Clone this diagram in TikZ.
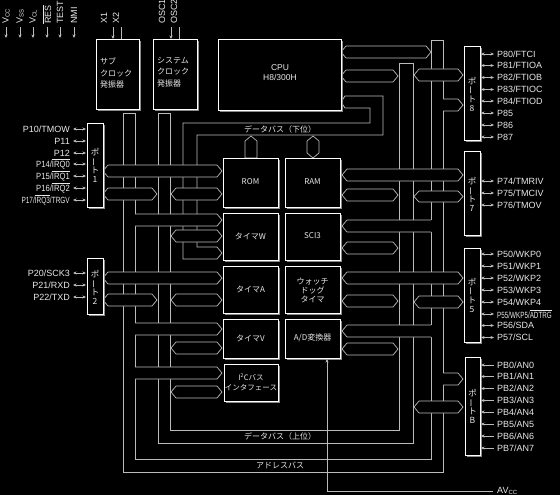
\documentclass[tikz,border=0pt]{standalone}
\usepackage{fontspec}
\setmainfont{Liberation Sans}
\newfontfamily\jp{Noto Sans CJK JP}
\usetikzlibrary{arrows.meta}
\definecolor{busc}{HTML}{BBBBBB}
\definecolor{txtc}{HTML}{E8E8E8}
\definecolor{shd}{HTML}{8A8A8A}
\newcommand{\ovl}[1]{$\overline{\mbox{#1}}$}
\newcommand{\nar}[2]{\scalebox{#1}[1]{#2}}
\newcommand{\hbB}[4]{%
 \filldraw[bl,fill=black] (#1,{(#3+#4)/2}) -- ({#1+5},#3) -- ({#2-5},#3) -- (#2,{(#3+#4)/2}) -- ({#2-5},#4) -- ({#1+5},#4) -- cycle;}
\newcommand{\hbL}[4]{%
 \fill[black] ({#1-0.9},#3) -- ({#2-5},#3) -- (#2,{(#3+#4)/2}) -- ({#2-5},#4) -- ({#1-0.9},#4) -- cycle;
 \draw[bl] (#1,#3) -- ({#2-5},#3) -- (#2,{(#3+#4)/2}) -- ({#2-5},#4) -- (#1,#4);}
\newcommand{\hbR}[4]{%
 \fill[black] (#1,{(#3+#4)/2}) -- ({#1+5},#3) -- ({#2+0.9},#3) -- ({#2+0.9},#4) -- ({#1+5},#4) -- cycle;
 \draw[bl] (#2,#3) -- ({#1+5},#3) -- (#1,{(#3+#4)/2}) -- ({#1+5},#4) -- (#2,#4);}
\newcommand{\bx}[4]{%
 \draw[shd,line width=1.2pt] ({#3+1.2},{#2+2}) -- ({#3+1.2},{#4+1.2}) -- ({#1+2},{#4+1.2});
 \draw[box] (#1,#2) rectangle (#3,#4);}
\begin{document}
\begin{tikzpicture}[x=1pt,y=-1pt,
  bl/.style={draw=busc,line width=0.7pt},
  box/.style={draw=white,line width=0.9pt,fill=black},
  pin/.style={font=\fontsize{9}{10}\selectfont,text=txtc,inner sep=0pt},
  mod/.style={font=\jp\fontsize{8}{9.5}\selectfont,text=txtc,align=center,inner sep=0pt},
  prt/.style={font=\jp\fontsize{8.5}{8.5}\selectfont,text=txtc,align=center,inner sep=0pt},
  tp/.style={pin,rotate=90,anchor=west},
  arr/.style={bl,-{Stealth[length=3.5pt,width=3pt]}},
  darr/.style={bl,{Stealth[length=3.5pt,width=3pt]}-{Stealth[length=3.5pt,width=3pt]}}]
\fill[black] (0,0) rectangle (560,495);
\useasboundingbox (0,0) rectangle (560,495);

% ---- top-left pins
\foreach \x/\t in {6/{V\textsubscript{CC}},20/{V\textsubscript{SS}},33/{V\textsubscript{CL}},47/{\ovl{RES}},60/{TEST},74/{NMI}}{
  \node[tp] (p\x) at (\x,24) {\t};
  \draw[arr] (\x,27) -- (\x,38);}
\node[tp] (x1) at (104,24) {X1};
\node[tp] (x2) at (116,24) {X2};
\node[tp] (o1) at (162,24) {OSC1};
\node[tp] (o2) at (174,24) {OSC2};
\draw[arr] (113,27) -- (113,39);
\draw[bl] (121,27) -- (121,39);
\draw[arr] (171,27) -- (171,39);
\draw[bl] (179,27) -- (179,39);

% ---- buses: address
\draw[bl] (123,113) -- (123,472) -- (443,472) -- (443,40) -- (431,40) -- (431,459) -- (135,459) -- (135,113) -- cycle;
% data bus upper
\draw[bl] (158,113) -- (158,443) -- (413,443) -- (413,63) -- (399,63) -- (399,430) -- (170,430) -- (170,113) -- cycle;
% data bus lower
\draw[bl] (341,102) -- (345,96) -- (383,96) -- (383,135) -- (197,135) -- (197,247) -- (217,247) -- (222,253) -- (217,259) -- (183,259) -- (183,123) -- (370,123) -- (370,108) -- (345,108) -- cycle;

% ---- bus connectors left
\hbB{103}{222}{165}{177}
\hbB{103}{157}{188}{200}
\hbB{171}{222}{188}{200}
\hbL{135}{222}{214}{226}
\hbB{171}{222}{230}{242}
\hbB{103}{222}{272}{284}
\hbB{103}{157}{294}{306}
\hbB{171}{222}{294}{306}
\hbL{135}{222}{323}{335}
\hbB{171}{222}{342}{354}
\hbL{135}{222}{367}{379}
\hbB{171}{222}{386}{398}
% right
\hbB{341}{431}{46}{58}
\hbB{341}{398}{70}{82}
\hbB{414}{463}{69}{81}
\hbL{443}{463}{99}{111}
\hbB{342}{463}{169}{181}
\hbB{342}{398}{189}{201}
\hbB{414}{463}{191}{202}
\hbR{342}{431}{220}{232}
\hbB{342}{398}{242}{254}
\hbB{342}{463}{272}{284}
\hbB{342}{398}{295}{307}
\hbB{414}{463}{296}{308}
\hbR{342}{431}{325}{337}
\hbB{342}{398}{343}{355}
\hbL{443}{463}{373}{385}
\hbB{414}{463}{401}{413}
% vertical connectors ROM / RAM
\filldraw[bl,fill=black] (251,136) -- (257,141) -- (257,158) -- (245,158) -- (245,141) -- cycle;
\filldraw[bl,fill=black] (313,136) -- (319,141) -- (319,153) -- (313,158) -- (307,153) -- (307,141) -- cycle;

% ---- bus labels
\node[mod,fill=black] (dbl) at (280,129) {データバス（下位）};
\node[mod,fill=black] (dbu) at (280,436.5) {データバス（上位）};
\node[mod,fill=black] (ab) at (280,465.5) {アドレスバス};

% ---- boxes
\bx{96}{39}{139}{109}
\node[mod,align=left,anchor=west,font=\jp\fontsize{8}{11.5}\selectfont] (sub) at (100,73) {サブ\\クロック\\発振器};
\bx{153}{39}{197}{109}
\node[mod,align=left,anchor=west,font=\jp\fontsize{8}{11.5}\selectfont] (sys) at (157,72) {システム\\クロック\\発振器};
\bx{218}{39}{341}{110}
\node[pin,align=center,font=\fontsize{8.5}{10}\selectfont] (cpu) at (280,73) {CPU\\H8/300H};

\bx{223}{158}{278}{207} \node[mod] (rom) at (250.5,182) {ROM};
\bx{285}{158}{340}{207} \node[mod] (ram) at (312.5,182) {RAM};
\bx{223}{213}{278}{260} \node[mod] (tw) at (250.5,236) {タイマW};
\bx{285}{213}{340}{260} \node[mod] (sci) at (312.5,236) {SCI3};
\bx{223}{266}{278}{313} \node[mod] (ta) at (250.5,289) {タイマA};
\bx{285}{266}{340}{313} \node[mod,font=\jp\fontsize{8}{9}\selectfont] (wdt) at (312.5,290) {ウォッチ\\ドッグ\\タイマ};
\bx{223}{319}{278}{358} \node[mod] (tv) at (250.5,338) {タイマV};
\bx{285}{319}{340}{358} \node[mod] (ad) at (312.5,338) {A/D変換器};
\bx{224}{364}{278}{401} \node[mod,font=\jp\fontsize{7.5}{10}\selectfont] (iic) at (251,382) {I\textsuperscript{2}Cバス\\インタフェース};

% ---- AVcc
\node[pin,anchor=west] (avcc) at (497,491) {AV\textsubscript{CC}};
\draw[arr] (493,491) -- (327,491) -- (327,359);

% ---- ports
\bx{87}{123}{103}{207}
\node[prt] (pt1) at (95,165) {ポ\\\rotatebox[origin=c]{90}{ー}\\ト\\1};
\bx{87}{258}{103}{314}
\node[prt] (pt2) at (95,287) {ポ\\\rotatebox[origin=c]{90}{ー}\\ト\\2};
\bx{464}{46}{480}{140}
\node[prt] (pt8) at (472,94) {ポ\\\rotatebox[origin=c]{90}{ー}\\ト\\8};
\bx{464}{151}{480}{235}
\node[prt] (pt7) at (472,194) {ポ\\\rotatebox[origin=c]{90}{ー}\\ト\\7};
\bx{464}{248}{480}{342}
\node[prt] (pt5) at (472,295) {ポ\\\rotatebox[origin=c]{90}{ー}\\ト\\5};
\bx{465}{357}{480}{455}
\node[prt] (ptb) at (472.5,406) {ポ\\\rotatebox[origin=c]{90}{ー}\\ト\\B};

% ---- port pins
\foreach \y/\t in {129/{P10/TMOW},141/{P11},153/{P12},164/{\nar{0.85}{P14/\ovl{IRQ0}}},176/{\nar{0.85}{P15/\ovl{IRQ1}}},188/{\nar{0.85}{P16/\ovl{IRQ2}}},200/{\nar{0.72}{P17/\ovl{IRQ3}/TRGV}},273/{P20/SCK3},285/{P21/RXD},297/{P22/TXD}}{
  \draw[darr] (73,\y) -- (86,\y);
  \node[pin,anchor=east] at (70,\y) {\t};}
\foreach \y/\t in {54/{P80/FTCI},65.5/{P81/FTIOA},77.5/{P82/FTIOB},89.5/{P83/FTIOC},101/{P84/FTIOD},113/{P85},125/{P86},137/{P87},181/{P74/TMRIV},193/{P75/TMCIV},205/{P76/TMOV},254/{P50/WKP0},266/{P51/WKP1},278/{P52/WKP2},290/{P53/WKP3},302/{P54/WKP4},314/{\nar{0.7}{P55/WKP5/\ovl{ADTRG}}},325.5/{P56/SDA},337.5/{P57/SCL}}{
  \draw[darr] (481,\y) -- (494,\y);
  \node[pin,anchor=west] at (497,\y) {\t};}
\foreach \y/\t in {365/{PB0/AN0},376.5/{PB1/AN1},388.5/{PB2/AN2},400.5/{PB3/AN3},412/{PB4/AN4},424/{PB5/AN5},436/{PB6/AN6},448/{PB7/AN7}}{
  \draw[arr] (494,\y) -- (481,\y);
  \node[pin,anchor=west] at (497,\y) {\t};}
\end{tikzpicture}
\end{document}
